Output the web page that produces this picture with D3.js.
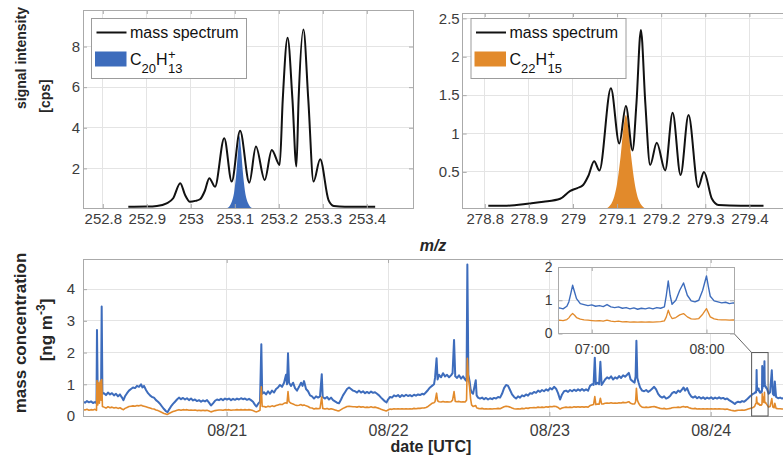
<!DOCTYPE html>
<html>
<head>
<meta charset="utf-8">
<script src="https://cdn.jsdelivr.net/npm/d3@7"></script>
<style>
  body { margin: 0; background: #fff; }
  svg { display: block; font-family: "Liberation Sans", Arial, Helvetica, sans-serif; }
</style>
</head>
<body>
<svg id="chart" width="783" height="462"></svg>
<script>
// ---------------- mass spectra ----------------
// m/z 253 region
const mz253 = [252.858, 252.900, 252.923, 252.945, 252.960, 252.976, 252.987, 252.998, 253.010, 253.021,
  253.032, 253.042, 253.055, 253.076, 253.093, 253.112, 253.133, 253.148, 253.168, 253.184,
  253.202, 253.209, 253.220, 253.231, 253.240, 253.245, 253.256, 253.267, 253.279, 253.294,
  253.313, 253.325, 253.350, 253.419];
const int253 = [0.11, 0.12, 0.15, 0.28, 0.53, 1.27, 0.69, 0.36, 0.40, 0.48,
  0.90, 1.52, 1.10, 3.49, 1.35, 3.85, 1.30, 3.08, 1.43, 2.91,
  2.17, 5.40, 8.43, 5.40, 2.09, 5.40, 8.84, 5.40, 1.35, 2.45,
  0.44, 0.15, 0.11, 0.11];
// fitted C20H13+ peak
const mzC20 = [253.083, 253.092, 253.099, 253.104, 253.108, 253.111, 253.114, 253.118, 253.123, 253.130, 253.139];
const intC20 = [0.05, 0.30, 0.90, 1.90, 3.00, 3.60, 3.00, 1.90, 0.90, 0.30, 0.05];

// m/z 279 region
const mz279 = [278.808, 278.850, 278.903, 278.933, 278.971, 278.993, 279.010, 279.023, 279.035, 279.048,
  279.060, 279.086, 279.105, 279.120, 279.135, 279.144, 279.154, 279.164, 279.175, 279.190,
  279.209, 279.226, 279.244, 279.262, 279.284, 279.297, 279.315, 279.330, 279.380, 279.432];
const int279 = [0.06, 0.06, 0.09, 0.11, 0.15, 0.25, 0.29, 0.33, 0.45, 0.64,
  0.52, 1.59, 0.87, 1.36, 0.78, 1.40, 2.35, 1.40, 0.59, 0.88,
  0.52, 1.27, 0.46, 1.24, 0.30, 0.50, 0.15, 0.07, 0.06, 0.06];
// fitted C22H15+ peak
const mzC22 = [279.075, 279.090, 279.100, 279.108, 279.115, 279.120, 279.125, 279.132, 279.140, 279.150, 279.165];
const intC22 = [0.02, 0.12, 0.35, 0.70, 1.10, 1.24, 1.10, 0.70, 0.35, 0.12, 0.02];

const mzTicks253 = [252.8, 252.9, 253, 253.1, 253.2, 253.3, 253.4];
const intTicks253 = [2, 4, 6, 8];
const mzTicks279 = [278.8, 278.9, 279, 279.1, 279.2, 279.3, 279.4];
const intTicks279 = [0.5, 1, 1.5, 2, 2.5];

// ---------------- mass concentration time series ----------------
// hours since 2019-08-20 00:00 UTC
const hoursSinceStart = [
  2.62,2.92,3.21,3.51,3.81,4.11,4.40,4.63,4.70,4.82,
  4.94,5.06,5.18,5.30,5.40,5.51,5.74,6.04,6.34,6.64,
  6.93,7.23,7.53,7.83,8.12,8.42,8.64,8.87,9.17,9.46,
  9.76,10.06,10.36,10.65,10.95,11.25,11.47,11.70,11.99,12.29,
  12.59,12.89,13.18,13.48,13.78,14.08,14.37,14.67,14.97,15.19,
  15.41,15.71,16.01,16.31,16.60,16.90,17.20,17.50,17.80,18.09,
  18.39,18.69,18.99,19.28,19.58,19.88,20.18,20.47,20.77,21.07,
  21.37,21.66,21.96,22.26,22.56,22.85,23.15,23.45,23.75,24.04,
  24.34,24.64,24.94,25.23,25.53,25.83,26.13,26.42,26.72,27.02,
  27.32,27.61,27.91,28.21,28.43,28.66,28.95,29.15,29.28,29.55,
  29.85,30.15,30.44,30.74,31.04,31.34,31.63,31.93,32.23,32.53,
  32.82,32.97,33.12,33.27,33.57,33.87,34.16,34.46,34.76,35.06,
  35.28,35.50,35.80,36.10,36.40,36.69,36.99,37.29,37.59,37.88,
  38.14,38.28,38.63,38.92,39.22,39.52,39.82,40.11,40.41,40.71,
  41.01,41.30,41.60,41.90,42.20,42.49,42.79,43.09,43.39,43.68,
  43.98,44.28,44.58,44.87,45.17,45.47,45.77,46.06,46.36,46.66,
  46.96,47.25,47.55,47.78,48.00,48.30,48.59,48.89,49.19,49.49,
  49.78,50.08,50.38,50.68,50.97,51.27,51.57,51.87,52.16,52.46,
  52.76,53.06,53.35,53.65,53.95,54.25,54.54,54.84,54.99,55.22,
  55.37,55.59,55.89,56.18,56.48,56.78,57.08,57.37,57.60,57.82,
  58.00,58.27,58.56,58.86,59.16,59.46,59.68,59.80,59.95,60.13,
  60.28,60.43,60.65,61.05,61.18,61.39,61.69,61.99,62.29,62.58,
  62.88,63.18,63.48,63.77,64.07,64.37,64.67,64.96,65.26,65.56,
  65.86,66.15,66.45,66.75,67.05,67.34,67.64,67.94,68.24,68.53,
  68.83,69.13,69.43,69.72,70.02,70.32,70.62,70.91,71.21,71.51,
  71.81,72.10,72.40,72.70,73.00,73.29,73.59,73.89,74.19,74.48,
  74.78,75.08,75.38,75.67,75.97,76.27,76.57,76.86,77.16,77.46,
  77.76,78.05,78.35,78.58,78.76,78.92,79.17,79.40,79.59,79.77,
  79.99,80.29,80.59,80.89,81.18,81.48,81.78,82.08,82.37,82.67,
  82.97,83.27,83.56,83.82,84.09,84.38,84.68,84.83,84.95,85.09,
  85.28,85.50,85.80,86.10,86.40,86.69,86.99,87.29,87.59,87.88,
  88.18,88.48,88.78,89.07,89.37,89.67,89.97,90.26,90.56,90.86,
  91.16,91.45,91.75,91.97,92.19,92.49,92.79,93.09,93.38,93.68,
  93.98,94.28,94.57,94.87,95.17,95.47,95.76,96.06,96.36,96.66,
  96.95,97.25,97.55,97.85,98.14,98.44,98.74,99.04,99.33,99.59,
  99.78,100.08,100.38,100.67,100.97,101.27,101.57,101.86,102.09,102.31,102.53,
  102.717,102.75,102.783,102.8,102.817,102.833,102.85,102.867,102.9,102.933,
  102.967,103,103.033,103.067,103.1,103.133,103.167,103.2,103.233,103.267,
  103.3,103.333,103.367,103.4,103.433,103.467,103.5,103.533,103.567,103.6,
  103.633,103.65,103.667,103.683,103.7,103.733,103.767,103.8,103.833,103.867,
  103.9,103.933,103.967,104,104.017,104.033,104.067,104.1,104.133,104.167,
  104.2,104.233,104.25,
  104.39,104.61,104.84,105.09,105.25,105.43,105.54,105.73,106.03,106.33,
  106.62,106.92,107.22,107.52,107.80];

// C20H13+ mass concentration [ng m-3]
const concC20 = [
  0.45,0.42,0.47,0.43,0.46,0.41,0.44,0.40,2.71,0.50,
  0.60,0.50,0.70,0.60,3.45,0.70,0.72,0.66,0.74,0.68,
  0.72,0.65,0.70,0.62,0.68,0.58,0.50,0.62,0.72,0.80,
  0.85,0.90,0.88,0.95,0.92,1.00,0.90,0.95,0.82,0.72,
  0.65,0.60,0.58,0.50,0.45,0.38,0.30,0.22,0.15,0.12,
  0.20,0.30,0.38,0.45,0.52,0.58,0.53,0.57,0.52,0.56,
  0.50,0.55,0.49,0.52,0.47,0.50,0.45,0.49,0.46,0.50,
  0.42,0.33,0.40,0.48,0.52,0.50,0.54,0.50,0.55,0.52,
  0.55,0.50,0.54,0.51,0.55,0.52,0.56,0.53,0.55,0.51,
  0.54,0.50,0.45,0.35,0.30,0.38,0.45,2.26,0.70,0.75,
  0.68,0.78,0.70,0.80,0.74,0.85,0.90,0.98,0.92,1.05,
  1.30,1.00,1.98,1.05,0.95,1.05,0.88,0.80,0.92,1.05,
  0.95,1.10,0.85,0.78,0.65,0.62,0.55,0.62,0.58,0.62,
  1.32,0.60,0.55,0.60,0.52,0.58,0.50,0.46,0.42,0.40,
  0.52,0.65,0.75,0.85,0.90,0.85,0.80,0.78,0.74,0.80,
  0.74,0.78,0.72,0.76,0.72,0.77,0.73,0.75,0.70,0.65,
  0.58,0.52,0.46,0.43,0.52,0.60,0.58,0.65,0.62,0.66,
  0.60,0.66,0.62,0.67,0.63,0.66,0.62,0.67,0.64,0.68,
  0.66,0.70,0.68,0.75,0.82,0.90,0.95,1.00,1.20,1.82,
  1.15,1.30,1.22,1.35,1.25,1.30,1.22,1.28,1.35,2.40,
  1.25,1.20,1.28,1.18,1.25,1.15,1.10,4.78,1.30,1.10,
  0.85,0.75,0.70,1.13,0.65,0.58,0.55,0.58,0.53,0.57,
  0.52,0.56,0.53,0.57,0.55,0.60,0.58,0.70,0.88,0.98,
  0.95,0.82,0.68,0.60,0.55,0.62,0.58,0.65,0.62,0.68,
  0.64,0.72,0.70,0.76,0.73,0.80,0.76,0.82,0.78,0.84,
  0.80,0.88,0.84,0.92,0.86,0.72,0.52,0.68,0.78,0.80,
  0.76,0.82,0.78,0.83,0.79,0.84,0.80,0.85,0.80,0.84,
  0.80,0.95,1.00,0.98,1.84,1.00,1.05,1.00,1.71,0.98,
  1.05,1.15,1.22,1.18,1.25,1.15,1.22,1.18,1.26,1.20,
  1.28,1.24,1.30,1.36,1.15,1.10,1.05,1.25,2.37,1.20,
  1.05,0.90,0.80,0.78,0.82,0.76,0.80,0.86,0.92,0.84,
  0.70,0.62,0.58,0.62,0.55,0.58,0.63,0.72,0.76,0.72,
  0.80,0.76,0.84,0.90,0.80,0.88,0.72,0.62,0.58,0.62,
  0.56,0.60,0.55,0.59,0.54,0.58,0.55,0.59,0.54,0.58,
  0.55,0.59,0.55,0.57,0.53,0.55,0.50,0.46,0.42,0.38,
  0.42,0.45,0.43,0.47,0.45,0.50,0.56,0.62,0.66,0.70,0.72,
  0.77,0.74,0.82,0.95,1.20,1.45,1.25,1.05,0.90,0.87,
  0.84,0.86,0.82,0.84,0.81,0.87,0.80,0.78,0.80,0.76,
  0.78,0.74,0.77,0.73,0.76,0.74,0.77,0.74,0.78,0.76,
  0.80,1.15,1.58,1.15,0.88,1.00,1.30,1.52,1.15,0.98,
  0.95,1.00,1.30,1.73,1.40,1.12,0.98,0.95,0.92,0.94,
  0.90,0.92,0.91,
  0.85,0.70,0.75,1.44,0.70,0.65,1.09,0.60,0.56,0.58,
  0.55,0.57,0.55,0.58,0.56];

// C22H15+ mass concentration [ng m-3]
const concC22 = [
  0.20,0.19,0.21,0.18,0.20,0.19,0.21,0.18,1.12,0.35,
  1.05,0.40,1.10,0.50,1.15,0.30,0.28,0.25,0.29,0.26,
  0.28,0.25,0.27,0.24,0.26,0.22,0.20,0.24,0.27,0.30,
  0.31,0.32,0.31,0.33,0.32,0.34,0.32,0.31,0.29,0.27,
  0.25,0.23,0.22,0.19,0.17,0.14,0.11,0.08,0.06,0.05,
  0.08,0.11,0.14,0.16,0.18,0.20,0.18,0.20,0.19,0.20,
  0.18,0.19,0.18,0.19,0.17,0.18,0.17,0.18,0.17,0.18,
  0.16,0.13,0.15,0.17,0.18,0.19,0.19,0.18,0.20,0.19,
  0.20,0.18,0.19,0.19,0.20,0.19,0.20,0.19,0.20,0.19,
  0.20,0.19,0.17,0.14,0.13,0.15,0.18,0.92,0.30,0.30,
  0.28,0.31,0.29,0.32,0.30,0.33,0.35,0.37,0.36,0.40,
  0.42,0.40,0.77,0.45,0.40,0.38,0.35,0.33,0.34,0.36,
  0.33,0.35,0.32,0.30,0.26,0.25,0.22,0.24,0.23,0.24,
  0.60,0.24,0.22,0.24,0.21,0.23,0.21,0.19,0.17,0.16,
  0.20,0.24,0.27,0.30,0.31,0.30,0.29,0.29,0.28,0.30,
  0.28,0.29,0.27,0.28,0.27,0.29,0.27,0.28,0.26,0.24,
  0.21,0.19,0.17,0.16,0.19,0.22,0.21,0.23,0.22,0.23,
  0.22,0.23,0.22,0.23,0.22,0.23,0.22,0.24,0.23,0.24,
  0.24,0.25,0.25,0.27,0.30,0.35,0.40,0.42,0.45,0.72,
  0.48,0.45,0.44,0.46,0.44,0.45,0.44,0.45,0.50,0.77,
  0.46,0.45,0.46,0.44,0.45,0.44,0.50,1.82,1.20,0.90,
  0.55,0.35,0.30,0.33,0.26,0.24,0.23,0.24,0.22,0.23,
  0.22,0.23,0.22,0.23,0.23,0.24,0.23,0.26,0.29,0.31,
  0.30,0.28,0.25,0.23,0.22,0.23,0.22,0.24,0.23,0.25,
  0.24,0.26,0.26,0.27,0.26,0.28,0.27,0.28,0.27,0.29,
  0.28,0.30,0.29,0.31,0.30,0.27,0.22,0.25,0.27,0.28,
  0.27,0.28,0.27,0.29,0.28,0.29,0.28,0.29,0.28,0.29,
  0.28,0.33,0.35,0.36,0.61,0.36,0.38,0.37,0.56,0.38,
  0.38,0.40,0.41,0.40,0.42,0.40,0.41,0.40,0.42,0.41,
  0.43,0.42,0.43,0.45,0.40,0.38,0.38,0.45,0.87,0.50,
  0.40,0.33,0.28,0.27,0.28,0.27,0.28,0.29,0.30,0.28,
  0.26,0.24,0.23,0.24,0.22,0.23,0.24,0.26,0.27,0.27,
  0.28,0.27,0.29,0.30,0.28,0.29,0.26,0.24,0.23,0.24,
  0.22,0.23,0.22,0.23,0.22,0.23,0.22,0.23,0.22,0.23,
  0.22,0.23,0.22,0.22,0.21,0.22,0.20,0.18,0.17,0.16,
  0.17,0.18,0.18,0.19,0.18,0.20,0.22,0.24,0.25,0.27,0.30,
  0.40,0.39,0.42,0.47,0.55,0.60,0.55,0.48,0.43,0.41,
  0.40,0.39,0.38,0.39,0.37,0.40,0.37,0.36,0.37,0.35,
  0.36,0.34,0.35,0.34,0.35,0.34,0.35,0.34,0.35,0.36,
  0.38,0.50,0.70,0.55,0.45,0.48,0.56,0.60,0.50,0.44,
  0.43,0.45,0.58,0.75,0.62,0.50,0.44,0.42,0.41,0.41,
  0.40,0.41,0.40,
  0.35,0.28,0.30,0.55,0.28,0.26,0.40,0.24,0.23,0.23,
  0.22,0.22,0.22,0.23,0.22];

const dayTicks = ['2019-08-21T00:00Z', '2019-08-22T00:00Z', '2019-08-23T00:00Z', '2019-08-24T00:00Z'];
const concTicks = [0, 1, 2, 3, 4];
const insetTimeTicks = ['2019-08-24T07:00Z', '2019-08-24T08:00Z'];
const insetConcTicks = [0, 1, 2];

// ---------------- drawing ----------------
const COL = { blue: '#3d6cbc', orange: '#e28a2b', grid: '#e4e4e4', box: '#aaaaaa', tick: '#3c3c3c', title: '#262626' };
const svg = d3.select('#chart');
const startUTC = Date.UTC(2019, 7, 20);
const toDate = h => new Date(startUTC + h * 3600e3);
const fmtNum = d => d3.format('.1f')(d).replace(/\.0$/, '');

// white plot area and light grid
function drawGrid(g, x, y, xt, yt) {
  const [x0, x1] = x.range(), [yb, yt0] = y.range();
  g.append('rect').attr('x', x0).attr('y', yt0).attr('width', x1 - x0).attr('height', yb - yt0).attr('fill', '#fff');
  g.append('g').selectAll('line').data(xt).join('line')
    .attr('x1', d => x(d)).attr('x2', d => x(d)).attr('y1', yb).attr('y2', yt0)
    .attr('stroke', COL.grid).attr('shape-rendering', 'crispEdges');
  g.append('g').selectAll('line').data(yt).join('line')
    .attr('x1', x0).attr('x2', x1).attr('y1', d => y(d)).attr('y2', d => y(d))
    .attr('stroke', COL.grid).attr('shape-rendering', 'crispEdges');
}
// box with inward ticks on all four sides, labels bottom and left
function drawFrame(g, x, y, xt, yt, o) {
  const [x0, x1] = x.range(), [yb, yt0] = y.range();
  const style = (sel, size) => {
    sel.select('.domain').remove();
    sel.selectAll('.tick line').attr('stroke', COL.box);
    sel.selectAll('.tick text').attr('fill', COL.tick).style('font-size', size + 'px');
  };
  g.append('g').attr('transform', `translate(0,${yb})`)
    .call(d3.axisBottom(x).tickValues(xt).tickSize(-4).tickPadding(o.xPad).tickFormat(o.xFmt))
    .call(s => style(s, o.xSize));
  g.append('g').attr('transform', `translate(0,${yt0})`)
    .call(d3.axisTop(x).tickValues(xt).tickSize(-4).tickFormat(''))
    .call(s => style(s, o.xSize));
  g.append('g').attr('transform', `translate(${x0},0)`)
    .call(d3.axisLeft(y).tickValues(yt).tickSize(-4).tickPadding(o.yPad).tickFormat(o.yFmt))
    .call(s => style(s, o.ySize));
  g.append('g').attr('transform', `translate(${x1},0)`)
    .call(d3.axisRight(y).tickValues(yt).tickSize(-4).tickFormat(''))
    .call(s => style(s, o.ySize));
  g.append('rect').attr('x', x0).attr('y', yt0).attr('width', x1 - x0).attr('height', yb - yt0)
    .attr('fill', 'none').attr('stroke', COL.box).attr('shape-rendering', 'crispEdges');
  g.selectAll('text').attr('font-family', '"Liberation Sans", Arial, sans-serif');
}

let clipId = 0;
function clipTo(g, x, y) {
  const id = 'clip' + (clipId++);
  const [x0, x1] = x.range(), [yb, yt0] = y.range();
  svg.append('clipPath').attr('id', id).append('rect')
    .attr('x', x0).attr('y', yt0).attr('width', x1 - x0).attr('height', yb - yt0);
  return g.append('g').attr('clip-path', `url(#${id})`);
}

// chemical formula with stacked sub/superscript after H
function formula(g, x, yBase, cN, hN) {
  const t = g.append('text').attr('x', x).attr('y', yBase).attr('fill', '#111').style('font-size', '16px');
  t.append('tspan').text('C');
  t.append('tspan').attr('dy', 8).style('font-size', '13px').text(cN);
  t.append('tspan').attr('dy', -8).text('H');
  const w = t.node().getComputedTextLength();
  g.append('text').attr('x', x + w + 0.5).attr('y', yBase - 6.5).style('font-size', '13px').attr('fill', '#111').text('+');
  g.append('text').attr('x', x + w + 0.5).attr('y', yBase + 8).style('font-size', '13px').attr('fill', '#111').text(hN);
}

function spectrumPanel(p) {
  const x = d3.scaleLinear().domain(p.xDomain).range(p.xRange);
  const y = d3.scaleLinear().domain(p.yDomain).range(p.yRange);
  const g = svg.append('g');
  drawGrid(g, x, y, p.xTicks, p.yTicks);
  const c = clipTo(g, x, y);
  const peak = d3.zip(p.peakMz, p.peakInt);
  c.append('path').datum(peak)
    .attr('d', d3.area().x(d => x(d[0])).y0(y(p.yDomain[0])).y1(d => y(d[1])).curve(d3.curveMonotoneX))
    .attr('fill', p.color);
  c.append('path').datum(d3.zip(p.mz, p.inten))
    .attr('d', d3.line().x(d => x(d[0])).y(d => y(d[1])).curve(d3.curveMonotoneX))
    .attr('fill', 'none').attr('stroke', '#111').attr('stroke-width', 2).attr('stroke-linejoin', 'round');
  drawFrame(g, x, y, p.xTicks, p.yTicks, { xPad: 5, yPad: 3, xSize: 15, ySize: 15, xFmt: fmtNum, yFmt: fmtNum });

  // legend
  const lx = p.legendX, ly = 18.5;
  const lg = g.append('g');
  lg.append('rect').attr('x', lx).attr('y', ly).attr('width', 155).attr('height', 60)
    .attr('fill', '#fff').attr('stroke', '#9c9c9c');
  lg.append('line').attr('x1', lx + 5).attr('x2', lx + 35).attr('y1', ly + 14).attr('y2', ly + 14)
    .attr('stroke', '#111').attr('stroke-width', 2);
  lg.append('text').attr('x', lx + 38.5).attr('y', ly + 19).attr('fill', '#111').style('font-size', '16px').text('mass spectrum');
  lg.append('rect').attr('x', lx + 3.5).attr('y', ly + 33).attr('width', 31.5).attr('height', 15).attr('fill', p.color);
  formula(lg, lx + 38.5, ly + 46.5, p.cN, p.hN);
}

spectrumPanel({
  xDomain: [252.755, 253.505], xRange: [83, 413], yDomain: [0.05, 9.8], yRange: [208, 10],
  xTicks: mzTicks253, yTicks: intTicks253, mz: mz253, inten: int253, peakMz: mzC20, peakInt: intC20,
  color: COL.blue, legendX: 91.5, cN: '20', hN: '13'
});
spectrumPanel({
  xDomain: [278.75, 279.5], xRange: [462.7, 793.5], yDomain: [0.03, 2.57], yRange: [208, 13],
  xTicks: mzTicks279, yTicks: intTicks279, mz: mz279, inten: int279, peakMz: mzC22, peakInt: intC22,
  color: COL.orange, legendX: 471, cN: '22', hN: '15'
});

// axis titles of the spectra
svg.append('text').attr('transform', 'translate(26,58) rotate(-90)').attr('text-anchor', 'middle')
  .attr('fill', COL.title).style('font-size', '14px').style('font-weight', 'bold').text('signal intensity');
svg.append('text').attr('transform', 'translate(50,96) rotate(-90)').attr('text-anchor', 'middle')
  .attr('fill', COL.title).style('font-size', '14px').style('font-weight', 'bold').text('[cps]');
svg.append('text').attr('x', 433).attr('y', 251).attr('text-anchor', 'middle')
  .attr('fill', COL.title).style('font-size', '16px').style('font-weight', 'bold').style('font-style', 'italic').text('m/z');

// ---- time series ----
const series = hoursSinceStart.map((h, i) => ({ t: toDate(h), c20: concC20[i], c22: concC22[i] }));
const xT = d3.scaleUtc().domain([toDate(2.62), toDate(107.8)]).range([83, 790]);
const yT = d3.scaleLinear().domain([0, 4.95]).range([416, 259]);
const days = dayTicks.map(d => new Date(d));
const gT = svg.append('g');
drawGrid(gT, xT, yT, days, concTicks.filter(d => d > 0));
const cT = clipTo(gT, xT, yT);
const lineOf = (x, y, key) => d3.line().x(d => x(d.t)).y(d => y(d[key]));
cT.append('path').datum(series).attr('d', lineOf(xT, yT, 'c20'))
  .attr('fill', 'none').attr('stroke', COL.blue).attr('stroke-width', 2).attr('stroke-linejoin', 'round');
cT.append('path').datum(series).attr('d', lineOf(xT, yT, 'c22'))
  .attr('fill', 'none').attr('stroke', COL.orange).attr('stroke-width', 1.6).attr('stroke-linejoin', 'round');
drawFrame(gT, xT, yT, days, concTicks, { xPad: 9, yPad: 8, xSize: 16, ySize: 15,
  xFmt: d3.utcFormat('%m/%d'), yFmt: d3.format('d') });

// zoom window marker and inset
const boxStart = toDate(102.09), boxEnd = toDate(104.54), boxTop = 2;
gT.append('rect').attr('x', xT(boxStart)).attr('y', yT(boxTop))
  .attr('width', xT(boxEnd) - xT(boxStart)).attr('height', yT(0) - yT(boxTop))
  .attr('fill', 'none').attr('stroke', '#555').attr('stroke-width', 1);

const xI = d3.scaleUtc().domain([toDate(102.71), toDate(104.24)]).range([558.5, 734]);
const yI = d3.scaleLinear().domain([0, 2]).range([333.5, 267]);
const insetTimes = insetTimeTicks.map(d => new Date(d));
const gI = svg.append('g');
gI.append('line').attr('x1', xI.range()[1]).attr('y1', yI.range()[0])
  .attr('x2', xT(boxStart)).attr('y2', yT(boxTop)).attr('stroke', '#666').attr('stroke-width', 1);
drawGrid(gI, xI, yI, insetTimes, [1]);
const cI = clipTo(gI, xI, yI);
cI.append('path').datum(series).attr('d', lineOf(xI, yI, 'c20'))
  .attr('fill', 'none').attr('stroke', COL.blue).attr('stroke-width', 1.4).attr('stroke-linejoin', 'round');
cI.append('path').datum(series).attr('d', lineOf(xI, yI, 'c22'))
  .attr('fill', 'none').attr('stroke', COL.orange).attr('stroke-width', 1.3).attr('stroke-linejoin', 'round');
drawFrame(gI, xI, yI, insetTimes, insetConcTicks, { xPad: 11, yPad: 6, xSize: 14, ySize: 14,
  xFmt: d3.utcFormat('%H:%M'), yFmt: d3.format('d') });

// axis titles of the time series
svg.append('text').attr('transform', 'translate(26,333) rotate(-90)').attr('text-anchor', 'middle')
  .attr('fill', COL.title).style('font-size', '17px').style('font-weight', 'bold').text('mass concentration');
const yl2 = svg.append('text').attr('transform', 'translate(52,330) rotate(-90)').attr('text-anchor', 'middle')
  .attr('fill', COL.title).style('font-size', '17px').style('font-weight', 'bold');
yl2.append('tspan').text('[ng m');
yl2.append('tspan').attr('dy', -7).style('font-size', '12px').text('-3');
yl2.append('tspan').attr('dy', 7).text(']');
svg.append('text').attr('x', 431).attr('y', 452).attr('text-anchor', 'middle')
  .attr('fill', COL.title).style('font-size', '16px').style('font-weight', 'bold').text('date [UTC]');
</script>
</body>
</html>
